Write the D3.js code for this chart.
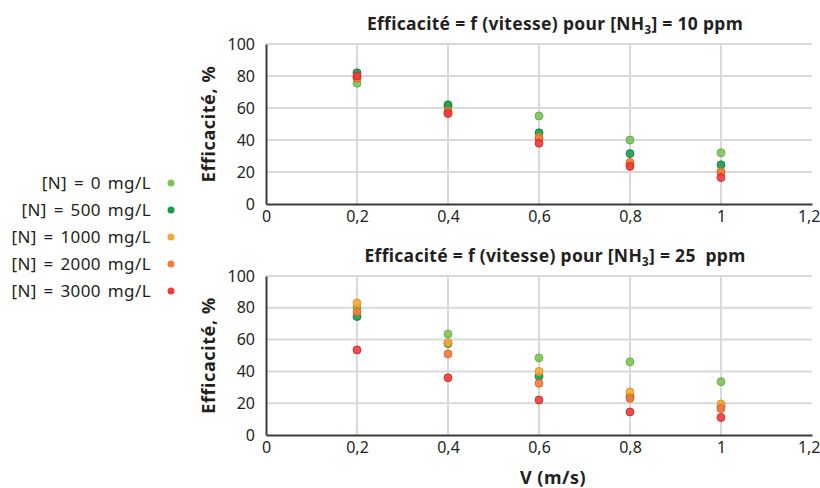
<!DOCTYPE html>
<html>
<head>
<meta charset="utf-8">
<script src="https://cdn.jsdelivr.net/npm/d3@7"></script>
<style>
body { margin: 0; background: #fff; }
svg text { font-family: "Noto Sans", "Open Sans", sans-serif; fill: #231f20; }
</style>
</head>
<body>
<div id="chart"></div>
<script>
let w = 820, h = 488

let speeds = [0.2, 0.4, 0.6, 0.8, 1]
let seriesNames = ["[N] = 0 mg/L", "[N] = 500 mg/L", "[N] = 1000 mg/L", "[N] = 2000 mg/L", "[N] = 3000 mg/L"]
let colors = ["#7cc456", "#1a9a50", "#f9a836", "#f47b3c", "#ec3b3b"]
let strokes = ["#5aa83a", "#0d7a3a", "#e08a1a", "#d85e22", "#c82424"]

// NH3 = 10 ppm
let top0 = [75.5, 61, 55, 40, 32]
let top500 = [82, 62, 44.5, 31.5, 24.5]
let top1000 = [79, 58, 41.5, 25, 20]
let top2000 = [78.5, 57.5, 41, 26, 20]
let top3000 = [80, 56.5, 38, 23.5, 16.5]

// NH3 = 25 ppm
let bot0 = [80, 63.5, 48.5, 46, 33.5]
let bot500 = [74.5, 57.5, 37, 24, 18]
let bot1000 = [83, 58, 40, 27, 19.5]
let bot2000 = [77.5, 51, 32.5, 23, 16.5]
let bot3000 = [53.5, 36, 22, 14.5, 11]

let xTicks = [0, 0.2, 0.4, 0.6, 0.8, 1, 1.2]
let yTicks = [0, 20, 40, 60, 80, 100]

let panels = [
	{title: "10 ppm", series: [top0, top500, top1000, top2000, top3000], top: 44, bottom: 204},
	{title: "25  ppm", series: [bot0, bot500, bot1000, bot2000, bot3000], top: 276, bottom: 435}
]

let left = 266, right = 812

let svg = d3.select("#chart").append("svg")
	.attr("width", w)
	.attr("height", h)

let x = d3.scaleLinear().domain([0, 1.2]).range([left, right])
let fmt = d => d === 0 ? "0" : String(d).replace(".", ",")

panels.forEach(p => {
	let y = d3.scaleLinear().domain([0, 100]).range([p.bottom, p.top])
	let g = svg.append("g")

	// gridlines
	g.selectAll(".hgrid")
		.data(yTicks.slice(1))
		.enter().append("line")
		.attr("x1", left).attr("x2", right)
		.attr("y1", d => y(d)).attr("y2", d => y(d))
		.attr("stroke", "#d9d9d9").attr("stroke-width", 2)
	g.selectAll(".vgrid")
		.data(xTicks.slice(1, 6))
		.enter().append("line")
		.attr("x1", d => x(d)).attr("x2", d => x(d))
		.attr("y1", p.top).attr("y2", p.bottom)
		.attr("stroke", "#d9d9d9").attr("stroke-width", 2)

	// axes
	let xAxis = d3.axisBottom(x).tickValues(xTicks).tickFormat(fmt).tickSize(0).tickPadding(5)
	let yAxis = d3.axisLeft(y).tickValues(yTicks).tickSize(0).tickPadding(11)

	let gx = g.append("g")
		.attr("transform", "translate(0," + p.bottom + ")")
		.call(xAxis)
	gx.select(".domain").attr("stroke", "#3a3a3a").attr("stroke-width", 2)
	gx.selectAll("text").attr("font-size", 16).attr("dy", "0.8em")
	// last label sits at the window edge
	gx.selectAll(".tick").filter(d => d === 1.2).select("text")
		.attr("text-anchor", "end").attr("x", 8)

	let gy = g.append("g")
		.attr("transform", "translate(" + left + ",0)")
		.call(yAxis)
	gy.select(".domain").attr("stroke", "#3a3a3a").attr("stroke-width", 2)
	gy.selectAll("text").attr("font-size", 16)

	// y title
	g.append("text")
		.attr("transform", "translate(215," + ((p.top + p.bottom) / 2) + ") rotate(-90)")
		.attr("text-anchor", "middle")
		.attr("font-weight", "bold")
		.attr("font-size", 18)
		.attr("letter-spacing", 0.6)
		.text("Efficacité, %")

	// title
	let t = g.append("text")
		.attr("x", 555)
		.attr("y", p.top - 14)
		.attr("text-anchor", "middle")
		.attr("font-weight", "bold")
		.attr("font-size", 17.5)
		.attr("letter-spacing", 0.3)
		.style("white-space", "pre")
	t.append("tspan").text("Efficacité = f (vitesse) pour [NH")
	t.append("tspan").attr("font-size", 11.5).attr("dy", 4).text("3")
	t.append("tspan").attr("dy", -4).text("] = " + p.title)

	// points
	p.series.forEach((s, i) => {
		g.selectAll(".pt" + i)
			.data(s)
			.enter().append("circle")
			.attr("cx", (d, j) => x(speeds[j]))
			.attr("cy", d => y(d))
			.attr("r", 4)
			.attr("fill", colors[i])
			.attr("fill-opacity", 0.9)
			.attr("stroke", strokes[i])
			.attr("stroke-width", 0.8)
	})
})

// x title
svg.append("text")
	.attr("x", 553)
	.attr("y", 484)
	.attr("text-anchor", "middle")
	.attr("font-weight", "bold")
	.attr("font-size", 18)
	.attr("letter-spacing", 0.5)
	.text("V (m/s)")

// legend
let legend = svg.append("g")
seriesNames.forEach((n, i) => {
	legend.append("text")
		.attr("x", 151)
		.attr("y", 183 + i * 27)
		.attr("dy", "0.35em")
		.attr("text-anchor", "end")
		.attr("font-size", 17)
		.attr("letter-spacing", 0.4)
		.attr("word-spacing", 2)
		.text(n)
	legend.append("circle")
		.attr("cx", 171)
		.attr("cy", 183 + i * 27)
		.attr("r", 3.5)
		.attr("fill", colors[i])
})
</script>
</body>
</html>
